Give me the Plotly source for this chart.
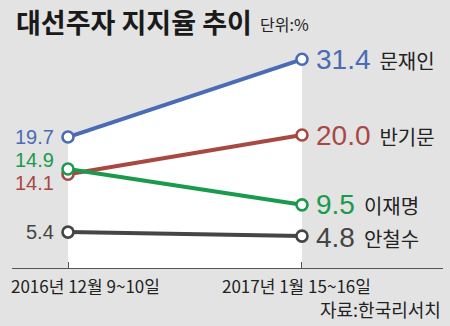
import plotly.graph_objects as go

# Survey rounds and support (%) per candidate
periods = ["2016년 12월 9~10일", "2017년 1월 15~16일"]
candidates = ["문재인", "반기문", "이재명", "안철수"]
moon = [19.7, 31.4]
ban = [14.1, 20.0]
lee = [14.9, 9.5]
ahn = [5.4, 4.8]

series = [moon, ban, lee, ahn]
colors = ["#4a6bb5", "#a94843", "#1a9a4c", "#454545"]
# vertical nudges for the left-hand value labels (px)
left_shift = [0, -9, 9, 0]
right_shift = [0, 0, 0, -1]

BG = "#e3e3e3"
KR = "Noto Sans CJK KR"
NUM = "Liberation Sans"

xs = [0, 1]
fig = go.Figure()

# white band beneath the leading line
fig.add_trace(go.Scatter(x=xs, y=moon, mode="none", fill="tozeroy",
                         fillcolor="white", hoverinfo="skip", showlegend=False))

for name, vals, col in zip(candidates, series, colors):
    fig.add_trace(go.Scatter(
        x=xs, y=vals, mode="lines+markers", name=name,
        line=dict(color=col, width=4),
        marker=dict(size=11, color="white", line=dict(color=col, width=2.6)),
        showlegend=False,
    ))

ann = []
for name, vals, col, ls, rs in zip(candidates, series, colors, left_shift, right_shift):
    ann.append(dict(x=0, y=vals[0], xref="x", yref="y", text=f"{vals[0]:.1f}",
                    xanchor="right", yanchor="middle", xshift=-12, yshift=ls,
                    showarrow=False, font=dict(family=NUM, size=20, color=col)))
    ann.append(dict(x=1, y=vals[1], xref="x", yref="y",
                    text=f"{vals[1]:.1f}<span style='font-family:{KR};font-size:20px;color:#222'>  {name}</span>",
                    xanchor="left", yanchor="middle", xshift=12, yshift=rs,
                    showarrow=False, font=dict(family=NUM, size=28, color=col)))

# period labels under the axis
ann.append(dict(x=0, y=0, xref="x", yref="y", text=periods[0], xanchor="left",
                yanchor="top", xshift=-59, yshift=-3, showarrow=False,
                font=dict(family=KR, size=17, color="#222")))
ann.append(dict(x=1, y=0, xref="x", yref="y", text=periods[1], xanchor="right",
                yanchor="top", xshift=71, yshift=-3, showarrow=False,
                font=dict(family=KR, size=17, color="#222")))

# title, unit and source
ann.append(dict(x=14, y=22, xref="paper", yref="paper", text="<b>대선주자 지지율 추이</b>",
                showarrow=False, xanchor="left", yanchor="middle",
                font=dict(family=KR, size=27, color="#1a1a1a")))
ann.append(dict(x=258, y=24, xref="paper", yref="paper", text="단위:%",
                showarrow=False, xanchor="left", yanchor="middle",
                font=dict(family=KR, size=16, color="#222")))
ann.append(dict(x=443, y=309, xref="paper", yref="paper", text="자료:한국리서치",
                showarrow=False, xanchor="right", yanchor="middle",
                font=dict(family=KR, size=18, color="#222")))

# convert pixel-positioned paper annotations to paper fractions
W, H = 450, 326
L, R, T, B = 12, 7, 40, 58
pw, ph = W - L - R, H - T - B
for a in ann:
    if a["xref"] == "paper":
        a["x"] = (a["x"] - L) / pw
        a["y"] = (H - B - a["y"]) / ph

fig.update_layout(
    width=W, height=H,
    margin=dict(l=L, r=R, t=T, b=B),
    paper_bgcolor=BG, plot_bgcolor=BG,
    annotations=ann,
    xaxis=dict(range=[-0.2393, 1.6026], showgrid=False, zeroline=False,
               showline=True, linecolor="#555", linewidth=1,
               tickvals=xs, ticktext=["", ""], ticks="inside", ticklen=6,
               tickcolor="#555", fixedrange=True),
    yaxis=dict(range=[0, 34.3], visible=False, fixedrange=True),
)

fig.write_html("out.html", config={"displayModeBar": False})
